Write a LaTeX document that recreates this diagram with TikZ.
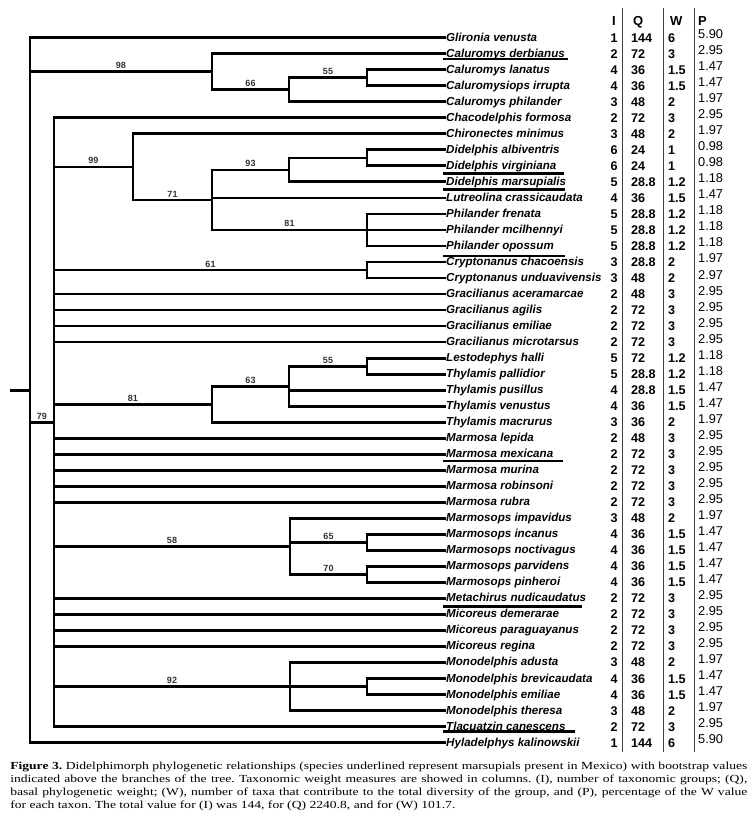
\documentclass[tikz,border=0pt]{standalone}
\usepackage{fontspec}
\setsansfont{Liberation Sans}
\newfontfamily\capfont{Liberation Serif}
\usetikzlibrary{calc}

\begin{document}
\begin{tikzpicture}[x=1pt, y=-1pt,
  br/.style = {line width=2.8pt},
  uline/.style = {line width=2.4pt},
  sep/.style = {line width=0.8pt, black!75},
  taxon/.style = {anchor=west, inner sep=0pt, text height=9pt, text depth=2pt,
    font=\sffamily\bfseries\itshape\fontsize{11.6}{13}\selectfont},
  num/.style = {anchor=base west, inner sep=0pt,
    font=\sffamily\bfseries\fontsize{12.6}{14}\selectfont},
  pnum/.style = {num, font=\sffamily\fontsize{12.8}{14}\selectfont},
  head/.style = {num, font=\sffamily\bfseries\fontsize{13}{14}\selectfont},
  boot/.style = {pos=.75, above, inner sep=1.5pt, text=black!80,
    font=\sffamily\bfseries\fontsize{9}{10}\selectfont},
  capt/.style = {anchor=north west, inner sep=0pt, xscale=1.26, transform shape,
    text width=585pt, align=justify,
    font=\capfont\frenchspacing\fontsize{10.8}{12.8}\selectfont}
  ]
  \useasboundingbox (0,0) rectangle (753,828);

  % column heads
  \node[head, anchor=base] (hI) at (614,25) {I};
  \node[head] (hQ) at (633,25) {Q};
  \node[head] (hW) at (670,25) {W};
  \node[head] (hP) at (698,25) {P};
  \foreach \sx in {622,663,694}
    \draw[sep] (\sx,8) -- (\sx,752);

  % taxa and weights
  \foreach \name/\vi/\vq/\vw/\vp [count=\k] in {
    Glironia venusta/1/144/6/5.90,
    Caluromys derbianus/2/72/3/2.95,
    Caluromys lanatus/4/36/1.5/1.47,
    Caluromysiops irrupta/4/36/1.5/1.47,
    Caluromys philander/3/48/2/1.97,
    Chacodelphis formosa/2/72/3/2.95,
    Chironectes minimus/3/48/2/1.97,
    Didelphis albiventris/6/24/1/0.98,
    Didelphis virginiana/6/24/1/0.98,
    Didelphis marsupialis/5/28.8/1.2/1.18,
    Lutreolina crassicaudata/4/36/1.5/1.47,
    Philander frenata/5/28.8/1.2/1.18,
    Philander mcilhennyi/5/28.8/1.2/1.18,
    Philander opossum/5/28.8/1.2/1.18,
    Cryptonanus chacoensis/3/28.8/2/1.97,
    Cryptonanus unduavivensis/3/48/2/2.97,
    Gracilianus aceramarcae/2/48/3/2.95,
    Gracilianus agilis/2/72/3/2.95,
    Gracilianus emiliae/2/72/3/2.95,
    Gracilianus microtarsus/2/72/3/2.95,
    Lestodephys halli/5/72/1.2/1.18,
    Thylamis pallidior/5/28.8/1.2/1.18,
    Thylamis pusillus/4/28.8/1.5/1.47,
    Thylamis venustus/4/36/1.5/1.47,
    Thylamis macrurus/3/36/2/1.97,
    Marmosa lepida/2/48/3/2.95,
    Marmosa mexicana/2/72/3/2.95,
    Marmosa murina/2/72/3/2.95,
    Marmosa robinsoni/2/72/3/2.95,
    Marmosa rubra/2/72/3/2.95,
    Marmosops impavidus/3/48/2/1.97,
    Marmosops incanus/4/36/1.5/1.47,
    Marmosops noctivagus/4/36/1.5/1.47,
    Marmosops parvidens/4/36/1.5/1.47,
    Marmosops pinheroi/4/36/1.5/1.47,
    Metachirus nudicaudatus/2/72/3/2.95,
    Micoreus demerarae/2/72/3/2.95,
    Micoreus paraguayanus/2/72/3/2.95,
    Micoreus regina/2/72/3/2.95,
    Monodelphis adusta/3/48/2/1.97,
    Monodelphis brevicaudata/4/36/1.5/1.47,
    Monodelphis emiliae/4/36/1.5/1.47,
    Monodelphis theresa/3/48/2/1.97,
    Tlacuatzin canescens/2/72/3/2.95,
    Hyladelphys kalinowskii/1/144/6/5.90}{
    \pgfmathsetmacro\yk{37.7+(\k-1)*16.02}
    \node[taxon] (t\k) at (446,\yk) {\name};
    \node[num, anchor=base] (i\k) at (614,{\yk+4.5}) {\vi};
    \node[num] (q\k) at (631,{\yk+4.5}) {\vq};
    \node[num] (w\k) at (668,{\yk+4.5}) {\vw};
    \node[pnum] (p\k) at (698,{\yk+1}) {\vp};
  }

  % underlined: species present in Mexico
  \foreach \k/\off/\len in {2/5.5/125, 9/7.5/121, 10/7.5/122, 14/10/122,
      27/6.5/120, 36/8/139, 44/5/132}
    \draw[uline] ($(t\k.west)+(-3,\off)$) -- ++(\len,0);

  % internal nodes of the tree
  \coordinate (stem) at (10,390.1);
  \coordinate (root) at (30,390.1);
  \coordinate (n98) at (212,71.7);
  \coordinate (n66) at (289,89.8);
  \coordinate (n55a) at (367,77.8);
  \coordinate (n79) at (54,422.2);
  \coordinate (n99) at (133,166.9);
  \coordinate (n71) at (212,199.9);
  \coordinate (n93) at (289,169.9);
  \coordinate (nDid) at (367,157.9);
  \coordinate (n81a) at (367,229.9);
  \coordinate (n61) at (367,270);
  \coordinate (n81b) at (212,404.1);
  \coordinate (n63) at (289,386.1);
  \coordinate (n55b) at (367,366.1);
  \coordinate (n58) at (290,546.3);
  \coordinate (n65) at (367,542.3);
  \coordinate (n70) at (367,574.4);
  \coordinate (n92) at (290,686.5);
  \coordinate (nMono) at (367,686.5);

  % root and outgroups
  \draw[br] (stem) -- (root);
  \draw[br] (root) |- (t1.west);
  \draw[br] (root) |- node[boot]{98} (n98);
  \draw[br] (root) |- node[boot]{79} (n79);
  \draw[br] (root) |- (t45.west);

  % Caluromys clade
  \draw[br] (n98) |- (t2.west);
  \draw[br] (n98) |- node[boot]{66} (n66);
  \draw[br] (n66) |- node[boot]{55} (n55a);
  \draw[br] (n66) |- (t5.west);
  \draw[br] (n55a) |- (t3.west);
  \draw[br] (n55a) |- (t4.west);

  % big clade
  \draw[br] (n79) |- (t6.west);
  \draw[br] (n79) |- node[boot]{99} (n99);
  \draw[br] (n79) |- node[boot]{61} (n61);
  \draw[br] (n79) |- node[boot]{81} (n81b);
  \draw[br] (n79) |- node[boot]{58} (n58);
  \draw[br] (n79) |- node[boot]{92} (n92);
  \foreach \k in {17,18,19,20,26,27,28,29,30,36,37,38,39,44}
    \draw[br] (n79) |- (t\k.west);

  \draw[br] (n99) |- (t7.west);
  \draw[br] (n99) |- node[boot]{71} (n71);
  \draw[br] (n71) |- node[boot]{93} (n93);
  \draw[br] (n71) |- (t11.west);
  \draw[br] (n71) |- node[boot]{81} (n81a);
  \draw[br] (n93) |- (nDid);
  \draw[br] (n93) |- (t10.west);
  \draw[br] (nDid) |- (t8.west);
  \draw[br] (nDid) |- (t9.west);
  \foreach \k in {12,13,14}
    \draw[br] (n81a) |- (t\k.west);
  \foreach \k in {15,16}
    \draw[br] (n61) |- (t\k.west);

  \draw[br] (n81b) |- node[boot]{63} (n63);
  \draw[br] (n81b) |- (t25.west);
  \draw[br] (n63) |- node[boot]{55} (n55b);
  \draw[br] (n63) |- (t23.west);
  \draw[br] (n63) |- (t24.west);
  \foreach \k in {21,22}
    \draw[br] (n55b) |- (t\k.west);

  \draw[br] (n58) |- (t31.west);
  \draw[br] (n58) |- node[boot]{65} (n65);
  \draw[br] (n58) |- node[boot]{70} (n70);
  \foreach \k in {32,33}
    \draw[br] (n65) |- (t\k.west);
  \foreach \k in {34,35}
    \draw[br] (n70) |- (t\k.west);

  \draw[br] (n92) |- (t40.west);
  \draw[br] (n92) |- (nMono);
  \draw[br] (n92) |- (t43.west);
  \foreach \k in {41,42}
    \draw[br] (nMono) |- (t\k.west);

  % caption
  \node[capt] (cap) at (10,762) {\textbf{Figure 3.} Didelphimorph phylogenetic
    relationships (species underlined represent marsupials present in Mexico) with
    bootstrap values\linebreak indicated above the branches of the tree. Taxonomic
    weight measures are showed in columns. (I), number of taxonomic groups;
    (Q),\linebreak basal phylogenetic weight; (W), number of taxa that contribute to
    the total diversity of the group, and (P), percentage of the W value\linebreak
    for each taxon. The total value for (I) was 144, for (Q) 2240.8, and for (W) 101.7.};
\end{tikzpicture}
\end{document}
